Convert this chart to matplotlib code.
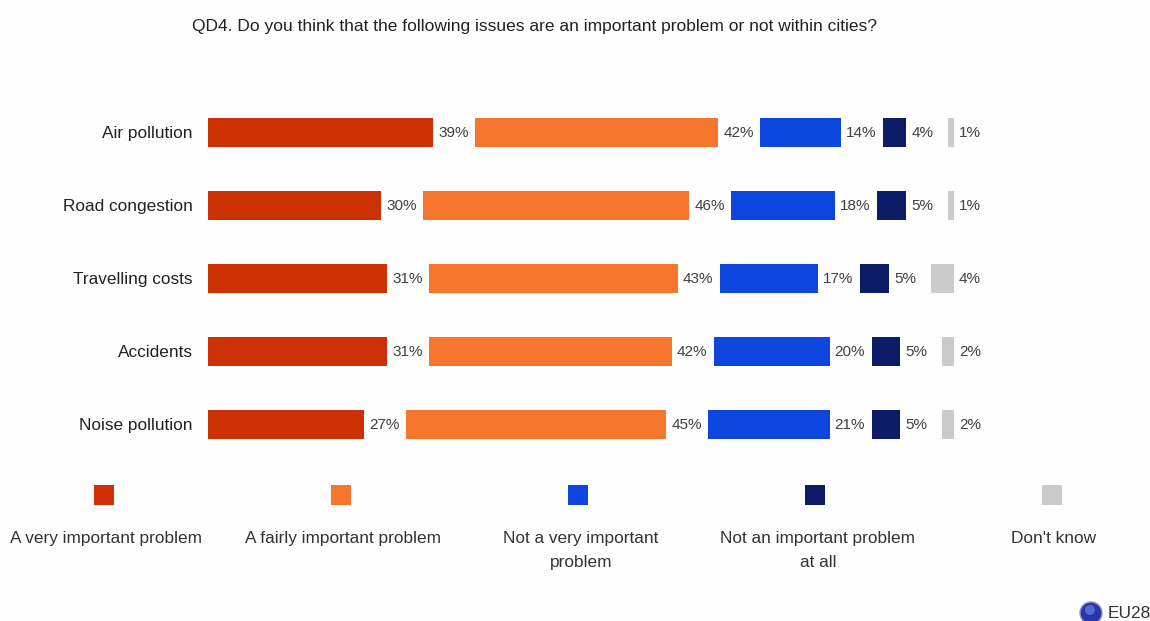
import matplotlib
matplotlib.use("Agg")
import matplotlib.pyplot as plt
from matplotlib.patches import Rectangle, Circle

W, H = 1150, 621
TITLE = "QD4. Do you think that the following issues are an important problem or not within cities?"
categories = ["Air pollution", "Road congestion", "Travelling costs", "Accidents", "Noise pollution"]
very_important = [39, 30, 31, 31, 27]
fairly_important = [42, 46, 43, 42, 45]
not_very_important = [14, 18, 17, 20, 21]
not_at_all = [4, 5, 5, 5, 5]
dont_know = [1, 1, 4, 2, 2]
series_names = ["A very important problem", "A fairly important problem",
                "Not a very important\nproblem", "Not an important problem\nat all", "Don't know"]
series_colors = ["#CC3003", "#F6762D", "#0C46DE", "#0D1C66", "#CBCBCD"]
series_values = [very_important, fairly_important, not_very_important, not_at_all, dont_know]

plt.rcParams["font.family"] = "Liberation Sans"

PX_PER_UNIT = 5.78
LEFT = 208
ROW0 = 132.6
ROW_STEP = 72.9
GAP_UNITS = 42 / PX_PER_UNIT  # white space reserved for each value label

fig = plt.figure(figsize=(W / 100, H / 100), dpi=100, facecolor="#FEFEFE")
ax = fig.add_axes([0, 0, 1, 1])
ax.set_xlim(-LEFT / PX_PER_UNIT, (W - LEFT) / PX_PER_UNIT)
ax.set_ylim((H - ROW0) / ROW_STEP, -ROW0 / ROW_STEP)
ax.axis("off")


def fx(x):
    return x / W


def fy(y):
    return 1 - y / H


# Separated bars: every segment starts one label gap after the previous one
for row, name in enumerate(categories):
    start = 0
    for values, color in zip(series_values, series_colors):
        v = values[row]
        ax.barh(row, v, left=start, height=0.4, color=color, linewidth=0)
        ax.annotate(f"{v}%", (start + v, row), xytext=(3.6, -0.5), textcoords="offset points",
                    ha="left", va="center", fontsize=11, color="#404040")
        start += v + GAP_UNITS
    ax.annotate(name, (0, row), xytext=(-11, -0.8), textcoords="offset points",
                ha="right", va="center", fontsize=12.4, color="#222222")

fig.text(fx(535), fy(26), TITLE, ha="center", va="center", fontsize=12.5, color="#222222")

# Legend laid out as five evenly spaced columns
legend_x = [104, 341, 578, 815, 1052]
label_x = [106, 343, 581, 818, 1054]
for cx, tx, name, color in zip(legend_x, label_x, series_names, series_colors):
    fig.add_artist(Rectangle((fx(cx - 10), fy(505)), 20 / W, 20 / H, transform=fig.transFigure,
                             facecolor=color, edgecolor="none"))
    fig.text(fx(tx), fy(531), name, ha="center", va="top", fontsize=12.4, color="#333333",
             linespacing=1.78)

# EU28 marker in the bottom corner
fig.add_artist(Circle((1091, H - 613), 11, transform=None, facecolor="#2A35A8", edgecolor="#8F96C8", linewidth=1))
fig.add_artist(Circle((1090, H - 610), 5, transform=None, facecolor="#5A66D8", edgecolor="none"))
fig.text(fx(1108), fy(614), "EU28", ha="left", va="center", fontsize=12.4, color="#333333")

fig.savefig("out.png", dpi=100, facecolor=fig.get_facecolor())
